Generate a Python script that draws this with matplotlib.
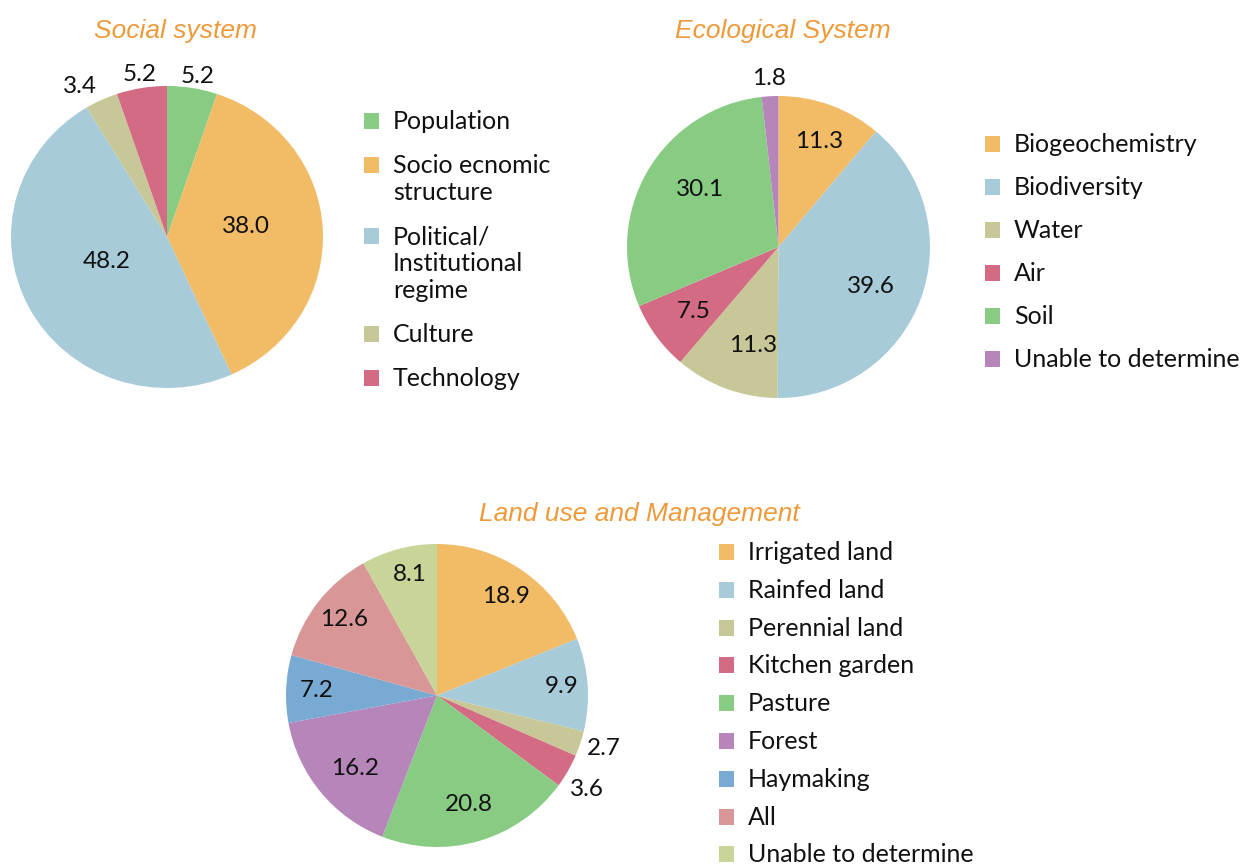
import numpy as np
import matplotlib.pyplot as plt
from matplotlib.patches import Rectangle

W, H = 1240, 865

# colours
green = '#88CC84'
orange = '#F2BC66'
lblue = '#A7CBD8'
khaki = '#C8C797'
pink = '#D36B85'
purple = '#B685BA'
blue = '#79AAD3'
rose = '#D89796'
lgreen = '#C7D598'
title_col = '#EE9A3A'

# social system
social_labels = ['Population', 'Socio ecnomic\nstructure', 'Political/\nInstitutional\nregime',
                 'Culture', 'Technology']
social_values = [5.2, 38.0, 48.2, 3.4, 5.2]
social_colors = [green, orange, lblue, khaki, pink]

# ecological system
eco_labels = ['Biogeochemistry', 'Biodiversity', 'Water', 'Air', 'Soil', 'Unable to determine']
eco_values = [11.3, 39.6, 11.3, 7.5, 30.1, 1.8]
eco_colors = [orange, lblue, khaki, pink, green, purple]

# land use and management
land_labels = ['Irrigated land', 'Rainfed land', 'Perennial land', 'Kitchen garden', 'Pasture',
               'Forest', 'Haymaking', 'All', 'Unable to determine']
land_values = [18.9, 9.9, 2.7, 3.6, 20.8, 16.2, 7.2, 12.6, 8.1]
land_colors = [orange, lblue, khaki, pink, green, purple, blue, rose, lgreen]

plt.rcParams['font.family'] = ['Lato', 'DejaVu Sans']

fig = plt.figure(figsize=(W / 100, H / 100), dpi=100)


def add_pie(box, values, colors, label_r, label_da, fs=17.5):
    l, t, r, b = box
    ax = fig.add_axes([l / W, 1 - b / H, (r - l) / W, (b - t) / H])
    wedges, _ = ax.pie(values, colors=colors, startangle=90, counterclock=False,
                       wedgeprops=dict(linewidth=0))
    ax.set_aspect('auto')
    ax.set_xlim(-1, 1)
    ax.set_ylim(-1, 1)
    for w, v, rf, da in zip(wedges, values, label_r, label_da):
        ang = np.deg2rad((w.theta1 + w.theta2) / 2 + da)
        ax.text(rf * np.cos(ang), rf * np.sin(ang), f'{v:.1f}', ha='center', va='center',
                fontsize=fs, color='#111111')
    return ax


def add_legend(x, y0, labels, colors, step, line_h=27, fs=18):
    # x = left of the square, y0 = centre of the first square (pixels from top)
    y = y0
    for lab, c in zip(labels, colors):
        fig.patches.append(Rectangle((x / W, 1 - (y + 8) / H), 15 / W, 16 / H,
                                     transform=fig.transFigure, color=c, linewidth=0))
        lines = lab.split('\n')
        for i, line in enumerate(lines):
            fig.text((x + 29) / W, 1 - (y + 8 + i * line_h) / H, line, fontsize=fs,
                     ha='left', va='baseline', color='#111111')
        y += step + line_h * (len(lines) - 1)


def add_title(x, y, s):
    fig.text(x / W, 1 - y / H, s, ha='center', va='baseline', fontsize=19, style='italic',
             color=title_col, family='Liberation Sans')


add_pie((11, 86, 323, 388), social_values, social_colors,
        [1.08, 0.51, 0.42, 1.14, 1.09], [-1, 5, -5, 4.5, 0])
add_legend(364, 121, social_labels, social_colors, 44)
add_title(175, 38, 'Social system')

add_pie((627, 96, 930, 398), eco_values, eco_colors,
        [0.75, 0.66, 0.67, 0.70, 0.64, 1.12], [-1, -3, 6, 1, -6, 0])
add_legend(985, 144, eco_labels, eco_colors, 43)
add_title(783, 38, 'Ecological System')

add_pie((286, 544, 588, 847), land_values, land_colors,
        [0.80, 0.83, 1.16, 1.17, 0.75, 0.73, 0.80, 0.79, 0.82],
        [-1, 0, 1, -2, 0, 2, 0, -1, -2])
add_legend(719, 552, land_labels, land_colors, 37.8)
add_title(639, 521, 'Land use and Management')

fig.savefig('out.png', dpi=100)
